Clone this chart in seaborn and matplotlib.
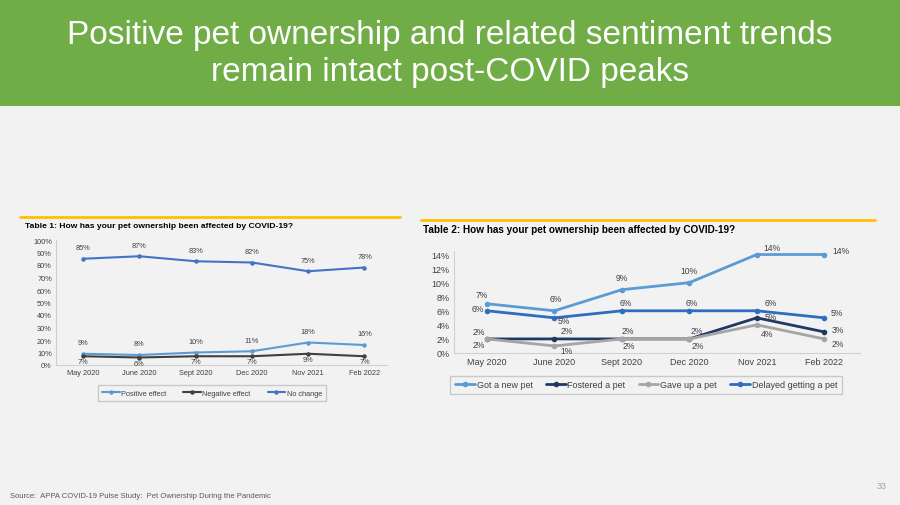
import pandas as pd
import seaborn as sns
import matplotlib.pyplot as plt
from matplotlib.patches import Rectangle

# dados
months = ['May 2020', 'June 2020', 'Sept 2020', 'Dec 2020', 'Nov 2021', 'Feb 2022']

positive_effect = [0.09, 0.08, 0.10, 0.11, 0.18, 0.16]
negative_effect = [0.07, 0.06, 0.07, 0.07, 0.09, 0.07]
no_change = [0.85, 0.87, 0.83, 0.82, 0.75, 0.78]

got_new_pet = [0.07, 0.06, 0.09, 0.10, 0.14, 0.14]
fostered_pet = [0.02, 0.02, 0.02, 0.02, 0.05, 0.03]
gave_up_pet = [0.02, 0.01, 0.02, 0.02, 0.04, 0.02]
delayed_pet = [0.06, 0.05, 0.06, 0.06, 0.06, 0.05]

W, H = 900, 506
BG = '#F2F2F2'
TXT = '#404040'

sns.set_theme(style='white')
plt.rcParams['font.family'] = ['Liberation Sans', 'DejaVu Sans']

fig = plt.figure(figsize=(9, 5.06), dpi=100, facecolor=BG)


def box(x0, y0, x1, y1):
    # converte pixels (topo-esquerda) em coordenadas da figura
    return [x0 / W, 1 - y1 / H, (x1 - x0) / W, (y1 - y0) / H]


# cabeçalho verde
fig.patches.append(Rectangle((0, 1 - 107 / H), 1, 107 / H, transform=fig.transFigure,
                             facecolor='#70AD47', edgecolor='none'))
fig.text(0.5, 1 - 54 / H, 'Positive pet ownership and related sentiment trends\nremain intact post-COVID peaks',
         ha='center', va='center', color='white', fontsize=24, linespacing=1.28)

# linhas amarelas
fig.lines.append(plt.Line2D([20 / W, 400 / W], [1 - 218 / H] * 2, transform=fig.transFigure,
                            color='#FFC000', lw=2))
fig.lines.append(plt.Line2D([421 / W, 875 / W], [1 - 221 / H] * 2, transform=fig.transFigure,
                            color='#FFC000', lw=2))

fig.text(25 / W, 1 - 227 / H, 'Table 1: How has your pet ownership been affected by COVID-19?',
         fontsize=6.1, fontweight='bold', color='black', va='center')
fig.text(423 / W, 1 - 230 / H, 'Table 2: How has your pet ownership been affected by COVID-19?',
         fontsize=7.2, fontweight='bold', color='black', va='center')


def draw(ax, series, palette, offsets, fs_lab, fs_tick, ms, lw):
    rows = []
    for name, vals in series.items():
        for m, v in zip(months, vals):
            rows.append({'month': m, 'value': v, 'series': name})
    df = pd.DataFrame(rows)
    sns.lineplot(data=df, x='month', y='value', hue='series', palette=palette, marker='o',
                 markersize=ms, markeredgewidth=0, linewidth=lw, sort=False, ax=ax)
    for name, vals in series.items():
        for i, v in enumerate(vals):
            dx, dy = offsets[name][i]
            ax.annotate(f'{round(v * 100)}%', (i, v), xytext=(dx, dy), textcoords='offset points',
                        ha='center', va='center', fontsize=fs_lab, color=TXT)
    ax.set_facecolor('none')
    ax.set_xlabel('')
    ax.set_ylabel('')
    ax.tick_params(axis='both', labelsize=fs_tick, colors=TXT, length=0, pad=3)
    ax.yaxis.set_major_formatter(plt.FuncFormatter(lambda y, _: f'{y * 100:.0f}%'))
    for s in ['top', 'right']:
        ax.spines[s].set_visible(False)
    for s in ['left', 'bottom']:
        ax.spines[s].set_color('#D0D0D0')
        ax.spines[s].set_linewidth(0.8)


# gráfico 1
ax1 = fig.add_axes(box(56, 241, 387, 366))
s1 = {'Positive effect': positive_effect, 'Negative effect': negative_effect, 'No change': no_change}
p1 = {'Positive effect': '#5B9BD5', 'Negative effect': '#404040', 'No change': '#4472C4'}
o1 = {'Positive effect': [(0, 8)] * 6,
      'Negative effect': [(0, -4)] * 6,
      'No change': [(0, 8)] * 6}
draw(ax1, s1, p1, o1, 5.3, 5.3, 3.2, 1.5)
ax1.set_ylim(0, 1.0)
ax1.set_yticks([i / 10 for i in range(11)])
ax1.set_xlim(-0.48, 5.4)
ax1.legend_.remove()
h, l = ax1.get_legend_handles_labels()
leg1 = fig.legend(h, l, loc='center', bbox_to_anchor=(212 / W, 1 - 394 / H), ncol=3, fontsize=5.3,
                  frameon=True, fancybox=False, edgecolor='#BFBFBF', facecolor='none',
                  handlelength=2.4, columnspacing=2.3, handletextpad=0.2, borderpad=0.6)
for t in leg1.get_texts():
    t.set_color(TXT)

# gráfico 2
ax2 = fig.add_axes(box(454, 252, 860, 354))
s2 = {'Got a new pet': got_new_pet, 'Fostered a pet': fostered_pet,
      'Gave up a pet': gave_up_pet, 'Delayed getting a pet': delayed_pet}
p2 = {'Got a new pet': '#5B9BD5', 'Fostered a pet': '#1F3864',
      'Gave up a pet': '#A5A5A5', 'Delayed getting a pet': '#2E6DBF'}
o2 = {'Got a new pet': [(-4, 7), (1, 9), (0, 9), (0, 9), (11, 5), (12, 3)],
      'Fostered a pet': [(-6, 5), (9, 6), (4, 6), (5, 6), (10, 1), (10, 2)],
      'Gave up a pet': [(-6, -4), (9, -3), (5, -5), (6, -5), (7, -6), (10, -3)],
      'Delayed getting a pet': [(-7, 2), (7, -2), (3, 6), (2, 6), (10, 6), (9, 4)]}
draw(ax2, s2, p2, o2, 6.2, 6.5, 4, 2)
ax2.set_ylim(0, 0.145)
ax2.set_yticks([i / 100 for i in range(0, 15, 2)])
ax2.set_xlim(-0.49, 5.53)
ax2.legend_.remove()
h, l = ax2.get_legend_handles_labels()
leg2 = fig.legend(h, l, loc='center', bbox_to_anchor=(646 / W, 1 - 386 / H), ncol=4, fontsize=6.5,
                  frameon=True, fancybox=False, edgecolor='#BFBFBF', facecolor='none',
                  handlelength=2.2, columnspacing=1.45, handletextpad=0.2, borderpad=0.5)
for t in leg2.get_texts():
    t.set_color(TXT)

# rodapé
fig.text(10 / W, 1 - 497 / H, 'Source:  APPA COVID-19 Pulse Study:  Pet Ownership During the Pandemic',
         fontsize=5.5, color='#595959', va='center')
fig.text(882 / W, 1 - 487 / H, '33', fontsize=6.5, color='#A0A0A0', va='center', ha='center')

fig.savefig('out.png', dpi=100, facecolor=BG)
